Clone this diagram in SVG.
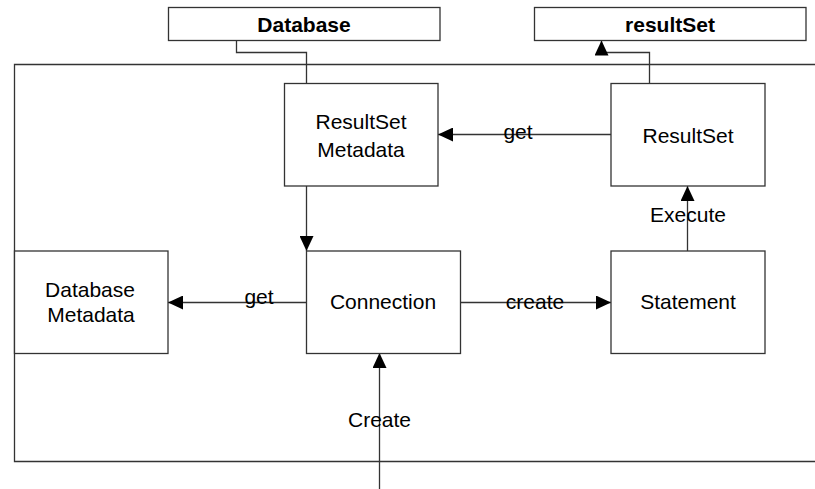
<svg xmlns="http://www.w3.org/2000/svg" width="815" height="489" viewBox="0 0 815 489">
<style>
.box{fill:#fff;stroke:#333;stroke-width:1.3}
.frame{fill:none;stroke:#333;stroke-width:1.3}
.ln{fill:none;stroke:#333;stroke-width:1.3}
text{font-family:"Liberation Sans",Arial,sans-serif;font-size:21px;fill:#000;text-anchor:middle}
.b{font-weight:bold}
</style>
<defs>
<marker id="ah" markerUnits="userSpaceOnUse" markerWidth="15" markerHeight="14" refX="15" refY="7" orient="auto">
<path d="M0,0 L15,7 L0,14 z" fill="#000"/>
</marker>
</defs>
<rect width="815" height="489" fill="#fff"/>
<g id="frame">
<path class="frame" d="M815,64.5 H14.5 V461.5 H815"/>
</g>
<g id="connectors">
<path class="ln" d="M236.5,40.5 V52.5 H306.5 V83"/>
<path class="ln" d="M649.5,83 V52.5 H601.5 V40.5" marker-end="url(#ah)"/>
<path class="ln" d="M611,134.5 H438" marker-end="url(#ah)"/>
<path class="ln" d="M306.5,186 V251" marker-end="url(#ah)"/>
<path class="ln" d="M306,302.5 H168" marker-end="url(#ah)"/>
<path class="ln" d="M461,302.5 H611" marker-end="url(#ah)"/>
<path class="ln" d="M687.5,251 V186" marker-end="url(#ah)"/>
<path class="ln" d="M379.5,489 V353" marker-end="url(#ah)"/>
<text x="518" y="138.5">get</text>
<text x="259" y="304">get</text>
<text x="535" y="309">create</text>
<text x="688" y="222">Execute</text>
<text x="379.5" y="426.5">Create</text>
</g>
<g id="database">
<rect class="box" x="168.5" y="7.5" width="271.5" height="33"/>
<text class="b" x="304" y="32">Database</text>
</g>
<g id="resultSetOut">
<rect class="box" x="534.5" y="7.5" width="271.5" height="33"/>
<text class="b" x="670" y="32">resultSet</text>
</g>
<g id="resultSetMetadata">
<rect class="box" x="284.5" y="83.5" width="153.5" height="102.5"/>
<text x="361" y="129">ResultSet</text>
<text x="361" y="156.5">Metadata</text>
</g>
<g id="resultSet">
<rect class="box" x="611" y="83.5" width="154" height="102.5"/>
<text x="688" y="143">ResultSet</text>
</g>
<g id="databaseMetadata">
<rect class="box" x="14.5" y="251" width="153.5" height="102.5"/>
<text x="90" y="296.5">Database</text>
<text x="91" y="322">Metadata</text>
</g>
<g id="connection">
<rect class="box" x="306.5" y="251" width="154" height="102.5"/>
<text x="383" y="309">Connection</text>
</g>
<g id="statement">
<rect class="box" x="611" y="251" width="154" height="102.5"/>
<text x="688" y="309">Statement</text>
</g>
</svg>
